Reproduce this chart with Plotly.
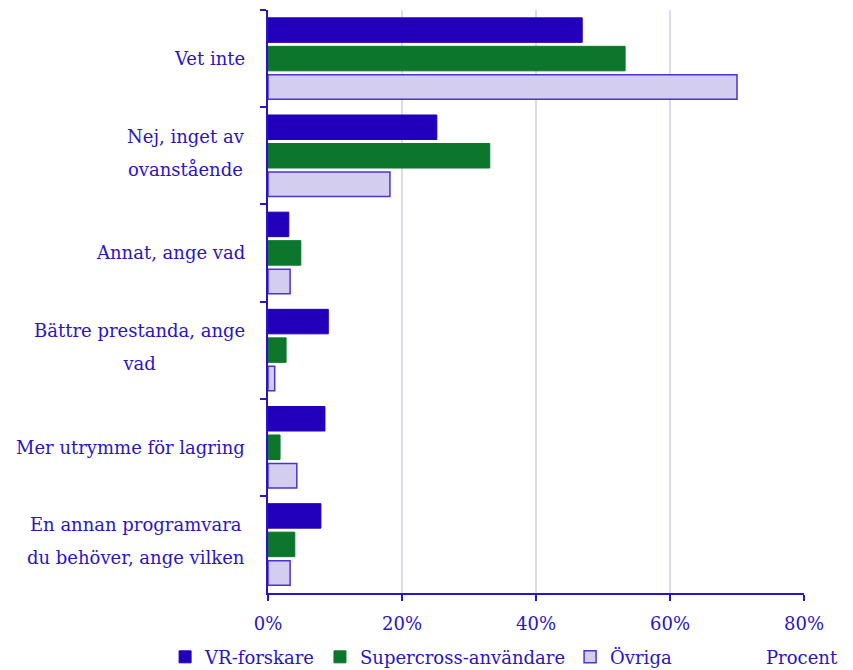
import plotly.graph_objects as go

# kategorier, uppifrån och ned
kategorier = ["Vet inte", "Nej, inget av<br>ovanstående", "Annat, ange vad",
              "Bättre prestanda, ange<br>vad", "Mer utrymme för lagring",
              "En annan programvara<br>du behöver, ange vilken"]

vr_forskare = [46.9, 25.2, 3.1, 9.0, 8.5, 7.9]
supercross = [53.3, 33.1, 4.9, 2.7, 1.8, 4.0]
ovriga = [70.0, 18.2, 3.3, 1.0, 4.3, 3.3]

x_ticks = [0, 20, 40, 60, 80]
x_ticktext = ["0%", "20%", "40%", "60%", "80%"]

textfarg = "#2A14C4"
font = "DejaVu Serif"

fig = go.Figure()
fig.add_trace(go.Bar(y=kategorier, x=vr_forskare, orientation="h", name="VR-forskare",
                     marker=dict(color="#2200BB", line=dict(color="#2200BB", width=1))))
fig.add_trace(go.Bar(y=kategorier, x=supercross, orientation="h", name="Supercross-användare",
                     marker=dict(color="#0C772C", line=dict(color="#0C772C", width=1))))
fig.add_trace(go.Bar(y=kategorier, x=ovriga, orientation="h", name="Övriga",
                     marker=dict(color="#D3CEF0", line=dict(color="#4A35CC", width=1.5))))

# etiketter som annoteringar så att raderna centreras.
# radavståndet följer annoteringens fontstorlek (25 -> ca 33 px), texten visas i 18 px
for k in kategorier:
    if "<br>" in k:
        txt = "<br>".join('<span style="font-size:18px">%s</span>' % r for r in k.split("<br>"))
        storlek = 25
        ys = 3
    else:
        txt = k
        storlek = 18
        ys = 0
    fig.add_annotation(x=0, xref="paper", y=k, yref="y", text=txt, showarrow=False,
                       xanchor="right", align="center", xshift=-21, yshift=ys,
                       font=dict(family=font, size=storlek, color=textfarg))

fig.add_annotation(x=1, xref="paper", y=0, yref="paper", yshift=-64, xshift=36,
                   text="Procent", showarrow=False, xanchor="right", yanchor="middle",
                   font=dict(family=font, size=18, color=textfarg))

fig.update_layout(
    width=853, height=670,
    margin=dict(l=268, r=49, t=10, b=77, autoexpand=False),
    plot_bgcolor="white", paper_bgcolor="white",
    barmode="group", bargap=0.12, bargroupgap=0.14,
    font=dict(family=font, size=18, color=textfarg),
    showlegend=True,
    legend=dict(orientation="h", x=-0.192, xanchor="left", y=-0.11, yanchor="middle",
                font=dict(family=font, size=18, color=textfarg),
                itemwidth=30, tracegroupgap=0),
)
fig.update_xaxes(range=[0, 80], tickvals=x_ticks, ticktext=x_ticktext,
                 showgrid=True, gridcolor="#DCDAF2", gridwidth=2,
                 showline=True, linecolor=textfarg, linewidth=2,
                 ticks="outside", ticklen=6, tickcolor=textfarg, tickwidth=2,
                 ticklabelstandoff=7, zeroline=False)
fig.update_yaxes(autorange="reversed", showticklabels=False,
                 showline=True, linecolor=textfarg, linewidth=2,
                 ticks="outside", ticklen=6, tickcolor=textfarg, tickwidth=2,
                 tickson="boundaries", showgrid=False)

# ta bort sidans standardmarginal så att figuren fyller fönstret
fig.write_html("out.html", config={"displayModeBar": False},
               post_script="document.body.style.margin='0';")
